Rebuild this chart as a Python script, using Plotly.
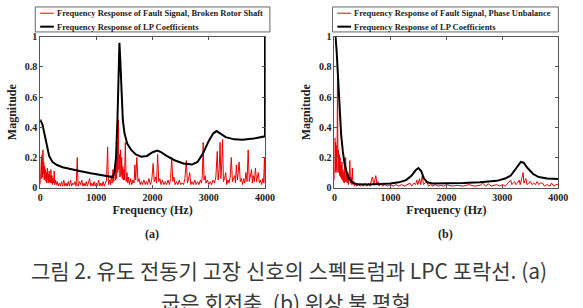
import plotly.graph_objects as go

# ---------------- data ----------------
# (frequency Hz, magnitude)
spec_a = [(0, .02), (8, .10), (15, .04), (22, .20), (28, .06), (35, .22), (42, .07), (50, .25), (57, .09), (64, .17),
          (72, .05), (80, .14), (88, .06), (96, .12), (104, .04), (112, .10), (120, .03), (128, .13), (136, .05),
          (144, .09), (152, .03), (160, .11), (168, .04), (176, .08), (184, .03), (192, .12), (200, .03), (210, .08),
          (220, .02), (230, .06), (240, .03), (250, .11), (260, .02), (275, .05), (290, .02), (305, .04), (320, .01),
          (340, .03), (360, .01), (380, .04), (400, .01), (420, .05), (440, .01), (460, .03), (480, .01), (500, .04),
          (520, .01), (540, .05), (560, .01), (580, .03), (600, .02), (620, .04), (640, .01), (660, .20), (675, .01),
          (700, .04), (720, .02), (740, .05), (760, .01), (780, .03), (800, .01), (820, .04), (840, .01), (860, .03),
          (880, .06), (900, .01), (920, .03), (940, .01), (960, .04), (980, .01), (1000, .03), (1020, .01),
          (1040, .05), (1060, .01), (1080, .03), (1100, .01), (1120, .04), (1140, .01), (1160, .03), (1180, .05),
          (1200, .27), (1215, .02), (1235, .05), (1250, .02), (1265, .08), (1280, .03), (1295, .12), (1310, .04),
          (1325, .15), (1340, .05), (1350, .18), (1360, .06), (1370, .30), (1380, .10), (1390, .45), (1400, .12),
          (1410, .22), (1420, .07), (1430, .25), (1440, .08), (1450, .20), (1460, .06), (1470, .14), (1480, .05),
          (1490, .12), (1500, .05), (1515, .30), (1530, .04), (1545, .10), (1560, .03), (1575, .07), (1590, .02),
          (1610, .06), (1630, .02), (1650, .05), (1670, .03), (1685, .15), (1700, .05), (1720, .20), (1740, .04),
          (1760, .06), (1780, .02), (1800, .04), (1820, .02), (1845, .05), (1870, .02), (1890, .04), (1910, .02),
          (1935, .06), (1960, .02), (1985, .05), (2010, .16), (2030, .04), (2050, .07), (2070, .03), (2090, .22),
          (2110, .04), (2130, .06), (2150, .02), (2175, .05), (2200, .02), (2225, .04), (2250, .02), (2275, .05),
          (2300, .02), (2320, .06), (2340, .20), (2360, .04), (2380, .07), (2400, .02), (2425, .04), (2450, .02),
          (2475, .05), (2500, .02), (2525, .03), (2550, .02), (2575, .06), (2600, .18), (2620, .03), (2640, .06),
          (2660, .10), (2680, .02), (2700, .04), (2725, .02), (2750, .05), (2775, .02), (2800, .04), (2825, .02),
          (2850, .05), (2870, .03), (2885, .08), (2900, .30), (2915, .05), (2935, .08), (2950, .03), (2975, .05),
          (3000, .02), (3025, .04), (3050, .02), (3075, .05), (3100, .03), (3125, .07), (3150, .24), (3165, .05),
          (3185, .12), (3200, .30), (3215, .06), (3230, .15), (3245, .32), (3260, .04), (3280, .06), (3300, .10),
          (3320, .02), (3340, .05), (3360, .03), (3380, .07), (3400, .20), (3420, .04), (3440, .06), (3460, .08),
          (3475, .03), (3490, .15), (3510, .05), (3525, .10), (3540, .17), (3560, .04), (3580, .06), (3600, .02),
          (3620, .06), (3640, .03), (3660, .10), (3680, .04), (3700, .25), (3720, .04), (3740, .07), (3760, .12),
          (3775, .03), (3790, .08), (3810, .04), (3830, .13), (3850, .04), (3865, .07), (3880, .10), (3900, .03),
          (3920, .05), (3940, .02), (3960, .06), (3975, .03), (3990, .20), (4000, .03)]

lpc_a = [(0, .45), (40, .42), (80, .35), (120, .27), (160, .21), (220, .17), (300, .15), (400, .135), (500, .125),
         (700, .11), (900, .095), (1100, .083), (1250, .07), (1290, .07), (1320, .10), (1350, .20), (1375, .45),
         (1395, .80), (1410, .96), (1425, .85), (1445, .60), (1470, .45), (1500, .36), (1550, .29), (1620, .25),
         (1700, .22), (1800, .205), (1900, .21), (2000, .235), (2080, .245), (2150, .235), (2250, .21), (2400, .18),
         (2550, .16), (2700, .153), (2800, .17), (2900, .23), (3000, .31), (3080, .36), (3140, .375), (3200, .36),
         (3300, .335), (3450, .32), (3600, .318), (3800, .325), (3950, .335), (4000, .34), (4000, 1.0)]

spec_b = [(0, .05), (8, .33), (15, .10), (22, .30), (30, .12), (38, .28), (46, .10), (55, .80), (62, .20), (70, .25),
          (78, .10), (86, .22), (94, .08), (102, .20), (110, .07), (118, .15), (126, .06), (134, .17), (142, .05),
          (150, .12), (158, .04), (166, .10), (174, .03), (182, .14), (190, .04), (200, .20), (210, .04), (220, .09),
          (230, .03), (240, .10), (250, .02), (262, .06), (275, .18), (288, .03), (300, .07), (310, .02), (320, .13),
          (332, .02), (345, .04), (360, .01), (380, .03), (400, .01), (430, .02), (460, .01), (490, .02), (520, .01),
          (550, .03), (580, .01), (610, .03), (640, .01), (660, .05), (680, .07), (700, .02), (720, .05), (740, .08),
          (760, .02), (780, .04), (800, .01), (830, .03), (860, .01), (900, .02), (950, .01), (1000, .02), (1050, .01),
          (1100, .02), (1150, .01), (1200, .02), (1250, .01), (1300, .02), (1350, .03), (1380, .01), (1420, .03),
          (1450, .02), (1470, .05), (1490, .02), (1505, .04), (1520, .06), (1540, .02), (1555, .05), (1570, .08),
          (1590, .02), (1620, .03), (1650, .04), (1680, .01), (1720, .02), (1760, .01), (1800, .02), (1850, .01),
          (1900, .015), (1950, .01), (2000, .02), (2100, .01), (2200, .015), (2300, .01), (2400, .02), (2500, .01),
          (2600, .015), (2650, .03), (2700, .01), (2750, .025), (2800, .01), (2900, .02), (2950, .01), (3000, .02),
          (3050, .01), (3100, .03), (3150, .05), (3170, .02), (3200, .03), (3220, .04), (3240, .02), (3270, .03),
          (3300, .05), (3320, .02), (3345, .06), (3370, .10), (3385, .03), (3400, .05), (3420, .06), (3440, .02),
          (3470, .03), (3500, .04), (3530, .02), (3560, .03), (3590, .02), (3620, .04), (3650, .02), (3680, .03),
          (3720, .03), (3750, .01), (3800, .02), (3850, .01), (3880, .03), (3920, .01), (3960, .02), (4000, .02)]

lpc_b = [(0, 1.0), (20, 1.0), (40, .90), (60, .75), (80, .60), (100, .45), (120, .35), (150, .24), (180, .16),
         (220, .10), (260, .06), (320, .035), (400, .022), (600, .02), (800, .022), (1000, .028), (1150, .035),
         (1280, .05), (1380, .08), (1450, .115), (1500, .13), (1550, .11), (1600, .06), (1660, .035), (1750, .028),
         (2000, .028), (2300, .03), (2600, .035), (2900, .045), (3050, .06), (3150, .08), (3250, .13), (3330, .17),
         (3380, .165), (3450, .13), (3550, .09), (3650, .07), (3800, .06), (4000, .057)]

x_ticks = [0, 1000, 2000, 3000, 4000]
y_ticks = [0, 0.2, 0.4, 0.6, 0.8, 1]
legend_a = ["Frequency Response of Fault Signal, Broken Rotor Shaft", "Frequency Response of LP Coefficients"]
legend_b = ["Frequency Response of Fault Signal, Phase Unbalance", "Frequency Response of LP Coefficients"]
panel_labels = ["(a)", "(b)"]
caption = ["그림 2. 유도 전동기 고장 신호의 스펙트럼과 LPC 포락선. (a)", "굽은 회전축, (b) 위상 불 평형"]

# ---------------- figure ----------------
W, H = 583, 308
SERIF = "Liberation Serif, Times New Roman, serif"
RED = "#ee0000"
TXT = "#222"


def px(x):
    return x / W


def py(y):
    return 1 - y / H


def xs(pairs):
    return [p[0] for p in pairs]


def ys(pairs):
    return [p[1] for p in pairs]


fig = go.Figure()
for spec, lpc, xa, ya in [(spec_a, lpc_a, "x", "y"), (spec_b, lpc_b, "x2", "y2")]:
    fig.add_trace(go.Scatter(x=xs(spec), y=ys(spec), mode="lines", line=dict(color=RED, width=1),
                             xaxis=xa, yaxis=ya, showlegend=False))
    fig.add_trace(go.Scatter(x=xs(lpc), y=ys(lpc), mode="lines", line=dict(color="black", width=2),
                             xaxis=xa, yaxis=ya, showlegend=False))

ax_common = dict(showline=True, mirror="allticks", linecolor="#555", linewidth=1, ticks="inside", ticklen=3,
                 tickcolor="#555", showgrid=False, zeroline=False,
                 tickfont=dict(family=SERIF, size=10, color=TXT, weight="bold"))
xtitle = dict(text="Frequency (Hz)", font=dict(family=SERIF, size=12, color=TXT, weight="bold"), standoff=2)
ytitle = dict(text="Magnitude", font=dict(family=SERIF, size=12, color=TXT, weight="bold"), standoff=5)
y_bot, y_top = py(189), py(32)
fig.update_layout(
    width=W, height=H, margin=dict(l=0, r=0, t=0, b=0),
    paper_bgcolor="white", plot_bgcolor="white",
    xaxis=dict(domain=[px(38), px(268)], range=[0, 4000], tickvals=x_ticks, anchor="y", title=xtitle, **ax_common),
    yaxis=dict(domain=[y_bot, y_top], range=[0, 1], tickvals=y_ticks, anchor="x", title=ytitle, **ax_common),
    xaxis2=dict(domain=[px(339), px(568)], range=[0, 4000], tickvals=x_ticks, anchor="y2", title=xtitle,
                **ax_common),
    yaxis2=dict(domain=[y_bot, y_top], range=[0, 1], tickvals=y_ticks, anchor="x2", title=ytitle, **ax_common),
)

shapes = []
annotations = []
# legends drawn as boxed keys
for (x0, x1, labels) in [(33, 273, legend_a), (337, 568, legend_b)]:
    shapes.append(dict(type="rect", xref="paper", yref="paper", x0=px(x0), x1=px(x1), y0=py(27), y1=py(1),
                       line=dict(color="#666", width=1), fillcolor="white"))
    for i, (lab, col, lw) in enumerate(zip(labels, [RED, "black"], [1, 2])):
        yy = 7.5 + i * 14
        shapes.append(dict(type="line", xref="paper", yref="paper", x0=px(x0 + 5), x1=px(x0 + 19), y0=py(yy),
                           y1=py(yy), line=dict(color=col, width=lw)))
        annotations.append(dict(text=lab, xref="paper", yref="paper", x=px(x0 + 20), y=py(yy), xanchor="left",
                                yanchor="middle", showarrow=False,
                                font=dict(family=SERIF, size=8.5, color=TXT, weight="bold")))

for lab, xc in zip(panel_labels, [152, 453]):
    annotations.append(dict(text=lab, xref="paper", yref="paper", x=px(xc), y=py(237), showarrow=False,
                            xanchor="center", yanchor="middle",
                            font=dict(family=SERIF, size=12, color=TXT, weight="bold")))
for line, xc, yc in zip(caption, [293, 289], [275, 308]):
    annotations.append(dict(text=line, xref="paper", yref="paper", x=px(xc), y=py(yc), showarrow=False,
                            xanchor="center", yanchor="middle",
                            font=dict(family="Noto Sans CJK KR", size=21, color="#3a3a3a")))

fig.update_layout(shapes=shapes, annotations=annotations)
fig.write_html("out.html")
